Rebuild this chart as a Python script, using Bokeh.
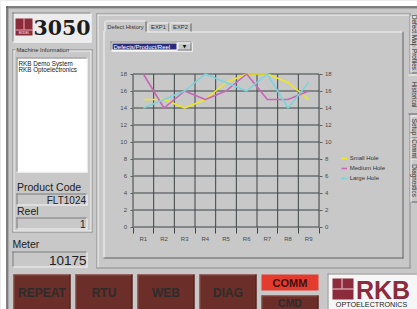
import math
from bokeh.plotting import figure
from bokeh.models import (Range1d, LinearAxis, FixedTicker, Legend, LegendItem)
from bokeh.core.properties import value
from bokeh.embed import file_html
from bokeh.resources import INLINE

# ---------------- data ----------------
categories = ["R1", "R2", "R3", "R4", "R5", "R6", "R7", "R8", "R9"]
small_hole = [15, 15, 14, 15, 17, 18, 18, 17, 15]
medium_hole = [18, 14, 16, 15, 16, 18, 15, 15, 16]
large_hole = [14, 15, 16, 18, 17, 16, 18, 14, 17]
series_names = ["Small Hole", "Medium Hole", "Large Hole"]
y_ticks = [0, 2, 4, 6, 8, 10, 12, 14, 16, 18]

machine_info = ["RKB Demo System", "RKB Optoelectronics"]
product_code = "FLT1024"
reel_value = "1"
meter_value = "10175"
chart_tabs = ["Defect History", "EXP1", "EXP2"]
side_tabs = ["Defect Map", "Profiles", "Historical", "Setup", "Comm", "Diagnostics"]
buttons = ["REPEAT", "RTU", "WEB", "DIAG"]

# ---------------- styles / layout ----------------
BG = "#c8c8c8"
GRID = "#3c4444"
DARK = "#7a7a7a"
SHADOW = "#606060"
WHITE = "#f4f4f4"
MAROON = "#6c2e28"
FONT = "Liberation Sans"
YELLOW, MAGENTA, CYAN = "#f0e818", "#c866b8", "#7ad4de"

# picture area in pixels
X0, X1, Y0, Y1 = 0, 417, 0, 309
# chart plot area in pixels
CX0, CX1, CY_BOT, CY_TOP = 132.5, 318.5, 226.5, 73.5
N = len(categories)
YMAX = y_ticks[-1]


def lin_range(v0, v1, p0, p1, q0, q1):
    """Range whose ends (at pixels q0, q1) put values v0, v1 at pixels p0, p1."""
    k = (v1 - v0) / (p1 - p0)
    return Range1d(v0 + (q0 - p0) * k, v0 + (q1 - p0) * k)


p = figure(width=X1 - X0, height=Y1 - Y0, x_range=Range1d(X0, X1), y_range=Range1d(Y1, Y0),
           output_backend="svg", toolbar_location=None,
           x_axis_location=None, y_axis_location=None,
           min_border=0, background_fill_color=BG, border_fill_color=BG)
p.outline_line_color = None
p.grid.visible = False
p.extra_x_ranges = {"cat": lin_range(-0.5, N - 0.5, CX0, CX1, X0, X1)}
p.extra_y_ranges = {"val": lin_range(0, YMAX, CY_BOT, CY_TOP, Y1, Y0)}


# ---------------- UI chrome helpers (pixel data space) ----------------
def box(x0, y0, x1, y1, fill):
    p.quad(left=x0, right=x1, top=y0, bottom=y1, fill_color=fill, line_color=None)


def hline(x0, x1, y, color):
    box(x0, y, x1, y + 1, color)


def vline(x, y0, y1, color):
    box(x, y0, x + 1, y1, color)


def frame(x0, y0, x1, y1, tl, br):
    hline(x0, x1, y0, tl)
    vline(x0, y0, y1, tl)
    hline(x0, x1, y1 - 1, br)
    vline(x1 - 1, y0, y1, br)


def sunken(x0, y0, x1, y1, fill=None):
    if fill:
        box(x0, y0, x1, y1, fill)
    frame(x0, y0, x1, y1, DARK, WHITE)


def raised(x0, y0, x1, y1, fill=None):
    if fill:
        box(x0, y0, x1, y1, fill)
    frame(x0, y0, x1, y1, WHITE, DARK)


def text(x, y, s, size, color="#202020", align="left", baseline="middle", bold=False,
         font=FONT, angle=0.0):
    p.text(x=[x], y=[y], text=[s], text_font=value(font), text_font_size=value(f"{size}px"),
           text_color=color, text_align=align, text_baseline=baseline,
           text_font_style="bold" if bold else "normal", angle=angle)


# white margin and window border
box(0, 0, 417, 6, "#ffffff")
box(0, 0, 6, 309, "#ffffff")
hline(6, 417, 6, "#1a1a1a")
vline(6, 6, 309, "#1a1a1a")
hline(7, 417, 7, "#8a8a8a")
vline(7, 7, 309, "#8a8a8a")

# logo box "3050"
sunken(12, 12, 91, 42, fill="#ececec")
box(15, 18, 32, 35, "#8e2b3a")
vline(23, 18, 29, "#e8b0b8")
hline(15, 32, 29, "#e8b0b8")
text(23.5, 32.5, "MODEL", 3, color="#ffffff", align="center")
text(33, 27, "3050", 20.5, color="#1c1c1c", bold=True, font="DejaVu Serif")

# machine information group
frame(12, 49, 92, 232, "#8a8a8a", "#8a8a8a")
frame(13, 50, 91, 231, WHITE, WHITE)
box(15, 46, 67, 53, BG)
text(16, 49.5, "Machine Information", 5.8, color="#303030")
sunken(16, 57, 87, 172, fill="#ffffff")
for i, s in enumerate(machine_info):
    text(18, 62.5 + 6.8 * i, s, 6.3, color="#202020")

text(16.5, 186, "Product Code", 10.5)
sunken(16, 193, 87, 205, fill=BG)
text(85.5, 199.5, product_code, 10, align="right")
text(16.5, 210.5, "Reel", 10.5)
sunken(16, 217, 87, 229, fill=BG)
text(85, 223.5, reel_value, 10, align="right")
text(12, 243, "Meter", 10.5)
sunken(12, 251, 87, 267, fill=BG)
text(86, 259.5, meter_value, 13.5, align="right")

# outer tab container
frame(96, 13, 410, 268, "#8a8a8a", "#8a8a8a")
hline(97, 409, 14, WHITE)
vline(97, 14, 267, WHITE)

# tab page
hline(146, 403, 31, WHITE)
hline(103, 104, 31, WHITE)
vline(103, 31, 258, WHITE)
vline(402, 31, 258, SHADOW)
hline(103, 403, 257, SHADOW)

# top tabs
tab_x = [(104, 146), (147, 169), (169, 191)]
for k, ((a, b), name) in enumerate(zip(tab_x, chart_tabs)):
    top = 20 if k == 0 else 22
    hline(a + 1, b - 1, top, WHITE)
    vline(a, top + 1, 31, WHITE)
    vline(b - 1, top + 1, 31, SHADOW)
    text((a + b) / 2, 26.5, name, 5.8, color="#303030", align="center")

# dropdown
sunken(110, 41, 192, 51, fill="#ffffff")
box(112, 43, 176, 49, "#2c2c7c")
text(113, 46, "Defects/Product/Reel", 6, color="#ffffff")
raised(177, 42, 191, 50, fill=BG)
text(184, 46.3, "\u25BC", 4.5, color="#101010", align="center", font="DejaVu Sans")

# right side tabs
side_y = [(16, 45), (45, 73), (74, 114), (115, 138), (138, 158), (158, 202)]
for (a, b), name in zip(side_y, side_tabs):
    if name == "Historical":
        box(408, a, 417, b, BG)
        hline(408, 417, a, WHITE)
        hline(408, 417, b - 1, SHADOW)
    else:
        hline(410, 417, a, WHITE)
        hline(410, 417, b - 1, SHADOW)
        vline(410, a, b, WHITE)
    text(413.5, (a + b) / 2, name, 6.3, color="#303030", align="center",
         angle=-math.pi / 2)

# bottom buttons
btn_x = [(13, 70), (75, 132), (137, 194), (199, 256)]
for (a, b), name in zip(btn_x, buttons):
    box(a, 274, b, 310, MAROON)
    frame(a, 274, b, 310, "#8a5048", "#4a1e1a")
    text((a + b) / 2, 292.5, name, 12, color="#2c2c2c", align="center", bold=True)
box(261, 274, 318, 290, "#e53b2e")
text(289.5, 282.5, "COMM", 11, color="#3e1010", align="center", bold=True)
box(261, 295, 318, 310, MAROON)
frame(261, 295, 318, 310, "#8a5048", "#4a1e1a")
text(289.5, 302.5, "CMD", 10.5, color="#2c2c2c", align="center", bold=True)

# RKB logo
box(327, 273, 417, 309, "#f6f6f6")
frame(327, 273, 418, 310, "#8a8a8a", "#8a8a8a")
box(332, 278, 353, 299, "#8c2b3c")
hline(332, 353, 288, "#f6d0d6")
vline(341, 278, 288, "#f6d0d6")
text(382.5, 289, "RKB", 25, color="#8c2b3c", align="center", bold=True)
text(371, 304, "OPTOELECTRONICS", 7.2, color="#222222", align="center")

# ---------------- chart (through the extra "cat"/"val" scales) ----------------
xs = list(range(N))
bounds = [i - 0.5 for i in range(N + 1)]
CH = dict(x_range_name="cat", y_range_name="val")

p.segment(x0=-0.5, x1=N - 0.5, y0=y_ticks, y1=y_ticks, line_color=GRID, line_width=1, **CH)
p.segment(x0=bounds, x1=bounds, y0=0, y1=YMAX, line_color=GRID, line_width=1, **CH)

r1 = p.line(xs, small_hole, line_color=YELLOW, line_width=1.6, **CH)
r2 = p.line(xs, medium_hole, line_color=MAGENTA, line_width=1.6, **CH)
r3 = p.line(xs, large_hole, line_color=CYAN, line_width=1.6, **CH)

xa = LinearAxis(fixed_location=0, bounds=(-0.5, N - 0.5),
                ticker=FixedTicker(ticks=xs, minor_ticks=bounds), **CH)
xa.major_label_overrides = {i: c for i, c in enumerate(categories)}
xa.major_tick_out = 0
xa.major_tick_in = 0
xa.minor_tick_out = 6
xa.minor_tick_in = 0
xa.minor_tick_line_color = GRID
xa.axis_line_color = None
xa.major_label_standoff = 3
p.add_layout(xa, "below")

ya = LinearAxis(fixed_location=-0.5, bounds=(0, YMAX), ticker=FixedTicker(ticks=y_ticks), **CH)
p.add_layout(ya, "left")
ra = LinearAxis(fixed_location=N - 0.5, bounds=(0, YMAX), ticker=FixedTicker(ticks=y_ticks), **CH)
p.add_layout(ra, "right")
for ax in (ya, ra):
    ax.major_tick_out = 3
    ax.major_tick_in = 0
    ax.minor_tick_line_color = None
    ax.major_tick_line_color = "#606060"
    ax.axis_line_color = "#808080"
    ax.major_label_standoff = 3
for ax in (xa, ya, ra):
    ax.major_label_text_font = FONT
    ax.major_label_text_font_size = "6px"
    ax.major_label_text_color = "#4a4a4a"

legend = Legend(items=[LegendItem(label=n, renderers=[r]) for n, r in zip(series_names, [r1, r2, r3])],
                location=(340.7 - X0, Y1 - 183.3), margin=0, padding=0, spacing=0,
                glyph_width=6, glyph_height=10, label_height=10, label_standoff=3,
                label_text_font=FONT, label_text_font_size="6px", label_text_color="#333333",
                background_fill_alpha=0, border_line_alpha=0)
p.add_layout(legend)

open("out.html", "w").write(file_html(p, INLINE))
